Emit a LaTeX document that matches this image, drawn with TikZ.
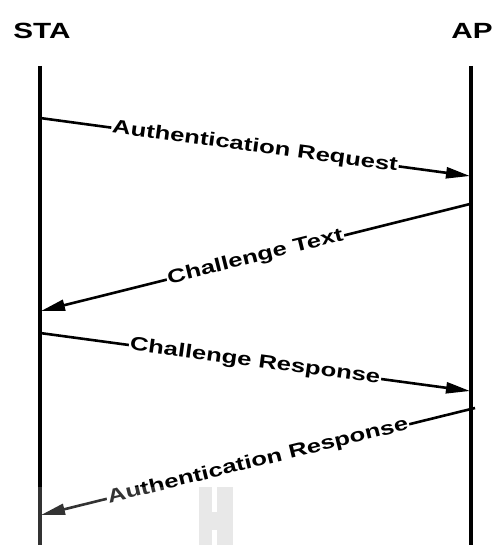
\documentclass[tikz,border=0pt]{standalone}
\usepackage{fontspec}
\setmainfont{Liberation Sans}
\usetikzlibrary{arrows.meta,calc}

% widened bold type used for every label
\newcommand{\widetype}[1]{\scalebox{1.35}[1]{#1}}

\tikzset{
  actor/.style={font=\bfseries\fontsize{22}{22}\selectfont, inner sep=0pt},
  lifeline/.style={line width=4pt},
  msg/.style={line width=2.6pt, -{Triangle[length=24pt,width=11pt]}},
  msglabel/.style={fill=white, inner sep=1pt, font=\bfseries\fontsize{19}{19}\selectfont}
}

\begin{document}
\begin{tikzpicture}[x=1pt, y=-1pt]
  \useasboundingbox (0,0) rectangle (494,545);

  % participants
  \node[actor] (sta) at (42,31) {\widetype{STA}};
  \node[actor] (ap)  at (472,31) {\widetype{AP}};

  % lifelines
  \coordinate (staTop) at (40,66);
  \coordinate (staBot) at (40,550);
  \coordinate (apTop)  at (471,66);
  \coordinate (apBot)  at (471,550);
  \draw[lifeline] (staTop) -- (staBot);
  \draw[lifeline] (apTop) -- (apBot);

  % message end points
  \coordinate (m1s) at (40,118);  \coordinate (m1e) at (470,176);
  \coordinate (m2s) at (470,204); \coordinate (m2e) at (41,311);
  \coordinate (m3s) at (40,333);  \coordinate (m3e) at (470,391);
  \coordinate (m4s) at (475,408); \coordinate (m4e) at (41,515);

  % messages
  \draw[msg] (m1s) -- (m1e);
  \draw[msg] (m2s) -- (m2e);
  \draw[msg] (m3s) -- (m3e);
  \draw[msg] (m4s) -- (m4e);

  % message labels laid along each arrow
  \node[msglabel, rotate=-7.68] (l1) at ($(m1s)!0.5!(m1e)$) {\widetype{Authentication Request}};
  \node[msglabel, rotate=13.97] (l2) at ($(m2s)!0.5!(m2e)$) {\widetype{Challenge Text}};
  \node[msglabel, rotate=-7.68] (l3) at ($(m3s)!0.5!(m3e)$) {\widetype{Challenge Response}};
  \node[msglabel, rotate=13.85] (l4) at ($(m4s)!0.5!(m4e)$) {\widetype{Authentication Response}};

  % faint grey band along the bottom edge
  \fill[white, opacity=0.2] (36,487) rectangle (236,545);
  \fill[black!9] (199,487) rectangle (233,545);
  \fill[white] (212,487) rectangle (217,512);
  \fill[white] (212,530) rectangle (217,545);
\end{tikzpicture}
\end{document}
